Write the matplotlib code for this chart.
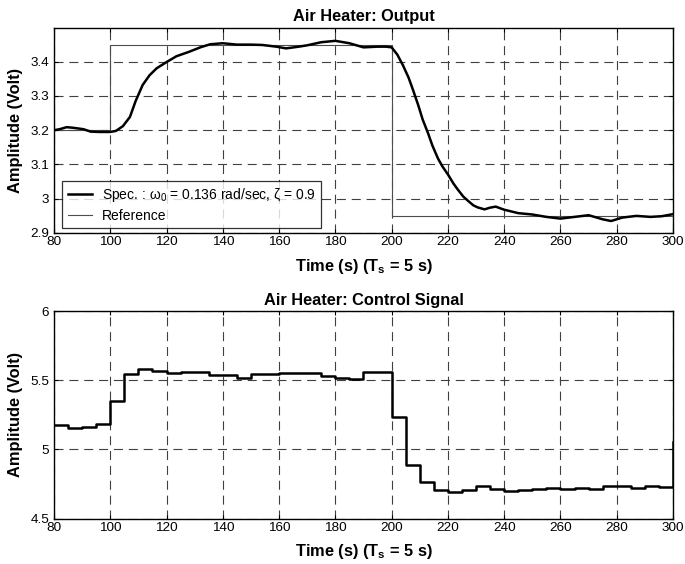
import numpy as np
import matplotlib
matplotlib.use("Agg")
import matplotlib.pyplot as plt

plt.rcParams['font.family'] = ['Liberation Sans', 'DejaVu Sans']
plt.rcParams['mathtext.fontset'] = 'custom'
plt.rcParams['mathtext.rm'] = 'Liberation Sans'
plt.rcParams['mathtext.it'] = 'Liberation Sans:italic'
plt.rcParams['mathtext.bf'] = 'Liberation Sans:bold'
plt.rcParams['lines.scale_dashes'] = False

# Measured air heater output (V) versus time (s)
output_time = [80, 82, 84.5, 87, 90.5, 93, 96, 100,
               102, 104.5, 107, 109, 111.5, 114, 116.5, 120,
               123.5, 128, 132, 135.5, 140, 145, 150, 154,
               159, 162.5, 167, 170, 175, 180, 185, 190,
               195, 198, 200, 202, 204, 206, 207.5, 209.5,
               211, 213, 214.5, 216.5, 218, 220, 222, 223.5,
               225.5, 227, 229, 230.5, 233, 235, 237, 240,
               245, 250, 255, 260, 265, 270, 275, 278,
               282, 287, 292, 296, 300]
output_value = [3.200, 3.203, 3.209, 3.207, 3.203, 3.196, 3.195, 3.195,
                3.198, 3.212, 3.239, 3.285, 3.332, 3.361, 3.381, 3.399,
                3.416, 3.429, 3.442, 3.451, 3.454, 3.450, 3.450, 3.449,
                3.444, 3.439, 3.444, 3.448, 3.457, 3.461, 3.454, 3.442,
                3.444, 3.444, 3.442, 3.421, 3.390, 3.354, 3.320, 3.272,
                3.232, 3.190, 3.155, 3.117, 3.095, 3.071, 3.044, 3.027,
                3.006, 2.995, 2.981, 2.975, 2.969, 2.974, 2.977, 2.968,
                2.958, 2.954, 2.947, 2.942, 2.947, 2.952, 2.940, 2.935,
                2.945, 2.950, 2.947, 2.949, 2.955]

# Set-point (reference) steps
ref_time = [80, 100, 200, 300]
ref_value = [3.2, 3.45, 2.95, 2.95]

# Control signal, held over each sampling period (Ts = 5 s)
ctrl_time = list(range(80, 301, 5))
ctrl_value = [5.175, 5.151, 5.159, 5.180, 5.351, 5.548, 5.579, 5.567,
              5.553, 5.560, 5.560, 5.536, 5.536, 5.519, 5.541, 5.543,
              5.553, 5.553, 5.553, 5.529, 5.519, 5.512, 5.560, 5.560,
              5.236, 4.887, 4.762, 4.707, 4.688, 4.707, 4.738, 4.714,
              4.700, 4.707, 4.714, 4.719, 4.716, 4.724, 4.716, 4.738,
              4.738, 4.719, 4.736, 4.731, 5.055]

x_ticks = [80, 100, 120, 140, 160, 180, 200, 220, 240, 260, 280, 300]
out_ticks = [2.9, 3.0, 3.1, 3.2, 3.3, 3.4]
ctrl_ticks = [4.5, 5.0, 5.5, 6.0]

W, H = 685, 564
fig = plt.figure(figsize=(W / 100, H / 100), dpi=100)


def frac(left, top, right, bottom):
    return [left / W, 1 - bottom / H, (right - left) / W, (bottom - top) / H]


ax1 = fig.add_axes(frac(54, 28, 673, 233))
ax2 = fig.add_axes(frac(54, 311, 673, 518.5))

xlabel = r'Time (s) (T$_{\mathbf{s}}$ = 5 s)'
label_size = 11.8
tick_size = 9.7

for ax in (ax1, ax2):
    ax.set_xlim(80, 300)
    ax.set_xticks(x_ticks)
    ax.set_xticklabels([f'{v:g}' for v in x_ticks])
    ax.grid(True, color='0.25', linewidth=0.8, linestyle=(0, (6.5, 4.2)))
    ax.set_axisbelow(True)
    ax.tick_params(direction='in', top=True, right=True, length=3,
                   width=0.8, labelsize=tick_size, colors='black')
    ax.tick_params(axis='x', pad=2.5)
    ax.tick_params(axis='y', pad=3.5)
    for s in ax.spines.values():
        s.set_linewidth(1.0)
    ax.set_xlabel(xlabel, fontsize=label_size, fontweight='bold', labelpad=6)
    ax.set_ylabel('Amplitude (Volt)', fontsize=label_size, fontweight='bold',
                  labelpad=5)

# Output plot
ax1.step(ref_time, ref_value, where='post', color='0.3', linewidth=0.8,
         label='Reference', zorder=3)
ax1.plot(output_time, output_value, color='black', linewidth=1.8,
         label=r'Spec. : $\mathrm{\omega}_0$ = 0.136 rad/sec, $\mathrm{\zeta}$ = 0.9',
         zorder=4)
ax1.set_ylim(2.9, 3.4985)
ax1.set_yticks(out_ticks)
ax1.set_yticklabels([f'{v:g}' for v in out_ticks])
ax1.set_title('Air Heater: Output', fontsize=label_size, fontweight='bold', pad=5)
handles, labels = ax1.get_legend_handles_labels()
leg = ax1.legend(handles[::-1], labels[::-1], loc='lower left',
                 bbox_to_anchor=(0.013, 0.024), borderaxespad=0,
                 fontsize=10, frameon=True, fancybox=False, edgecolor='black',
                 borderpad=0.4, handlelength=1.75, handletextpad=0.7,
                 labelspacing=0.3)
leg.get_frame().set_linewidth(0.9)

# Control signal plot
ax2.step(ctrl_time, ctrl_value, where='post', color='black', linewidth=1.8)
ax2.set_ylim(4.5, 6.0)
ax2.set_yticks(ctrl_ticks)
ax2.set_yticklabels([f'{v:g}' for v in ctrl_ticks])
ax2.set_title('Air Heater: Control Signal', fontsize=label_size,
              fontweight='bold', pad=4)

fig.savefig('out.png', dpi=100)
